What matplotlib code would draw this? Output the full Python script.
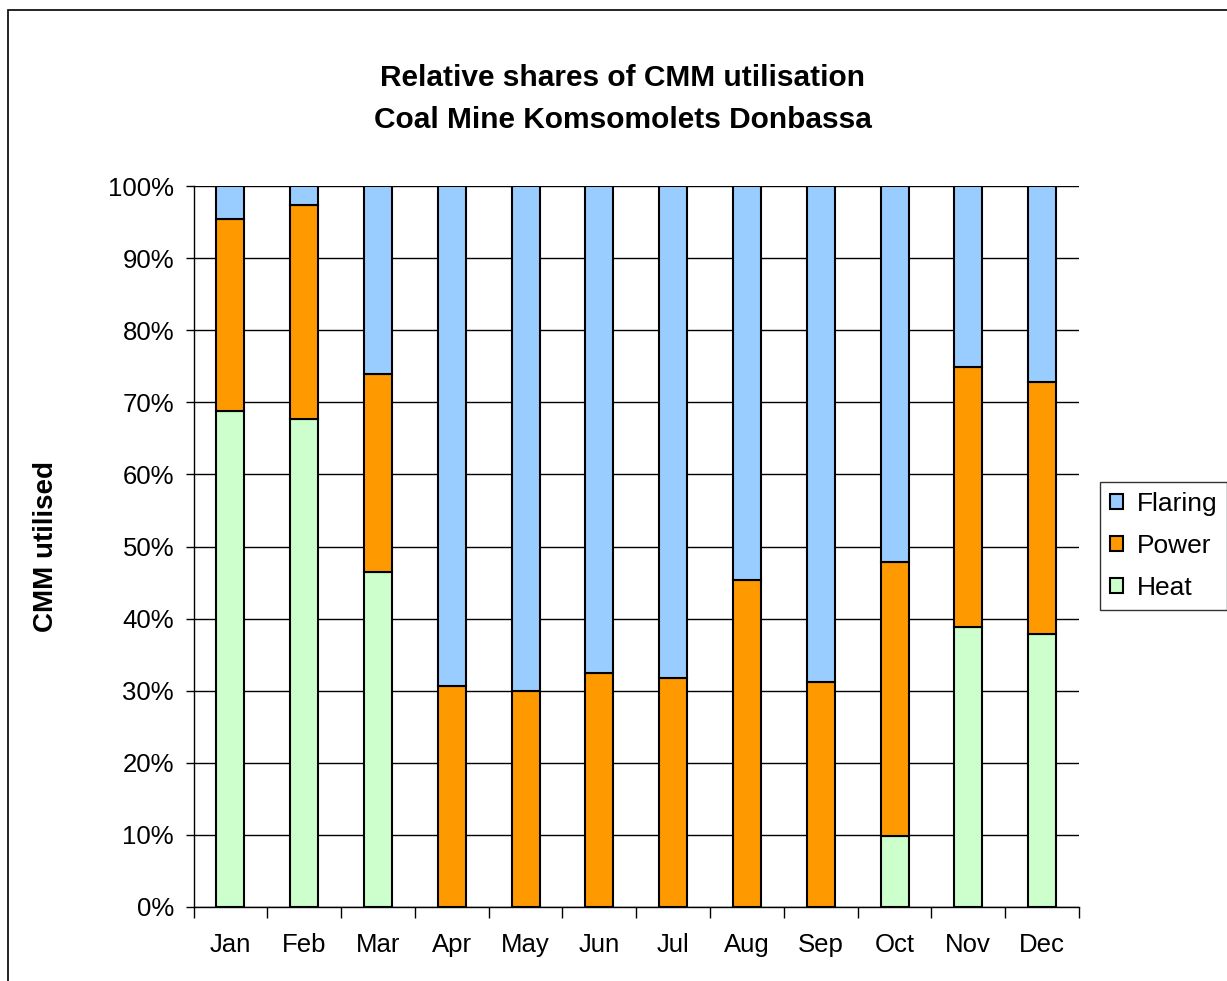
import matplotlib.pyplot as plt
import matplotlib.patches as patches
import numpy as np

plt.rcParams['font.family'] = ['Liberation Sans', 'DejaVu Sans']

months = ['Jan', 'Feb', 'Mar', 'Apr', 'May', 'Jun', 'Jul', 'Aug', 'Sep', 'Oct', 'Nov', 'Dec']
heat = [68.8, 67.7, 46.4, 0, 0, 0, 0, 0, 0, 9.9, 38.9, 37.9]
power = [26.6, 29.6, 27.5, 30.7, 29.9, 32.5, 31.8, 45.4, 31.2, 37.9, 36.0, 34.9]
flaring = [100 - h - p for h, p in zip(heat, power)]

col_heat = '#CCFFCC'
col_power = '#FF9900'
col_flaring = '#99CCFF'

W, H = 1227, 981
fig = plt.figure(figsize=(W / 100, H / 100), dpi=100)
ax = fig.add_axes([193.5 / W, 1 - 907 / H, (1079 - 193.5) / W, (907 - 186) / H])

x = np.arange(len(months))
bw = 0.38
kw = dict(width=bw, edgecolor='black', linewidth=1.5, zorder=3)
b1 = ax.bar(x, heat, color=col_heat, label='Heat', **kw)
b2 = ax.bar(x, power, bottom=heat, color=col_power, label='Power', **kw)
bottom2 = [h + p for h, p in zip(heat, power)]
b3 = ax.bar(x, flaring, bottom=bottom2, color=col_flaring, label='Flaring', **kw)

ax.set_xlim(-0.5, len(months) - 0.5)
ax.set_ylim(0, 100)
ax.set_yticks(np.arange(0, 101, 10))
ax.set_yticklabels([f'{v}%' for v in range(0, 101, 10)])
ax.yaxis.grid(True, color='black', linewidth=1.0, zorder=0)
ax.set_axisbelow(True)

ax.set_xticks(x)
ax.set_xticklabels(months)
ax.set_xticks(np.arange(-0.5, len(months), 1), minor=True)
ax.tick_params(axis='x', which='major', length=0, pad=19, labelsize=18.5)
ax.tick_params(axis='x', which='minor', length=8, width=1, direction='out')
ax.tick_params(axis='y', length=6, width=1, pad=8, labelsize=18.5)

for s in ['top', 'right']:
    ax.spines[s].set_visible(False)
ax.spines['left'].set_linewidth(1)
ax.spines['bottom'].set_linewidth(1)

ax.set_ylabel('CMM utilised', fontsize=20, fontweight='bold')
ax.yaxis.set_label_coords(-0.152, 0.5)

fig.text(623 / W, 1 - 78 / H, 'Relative shares of CMM utilisation', ha='center', va='center',
         fontsize=21.5, fontweight='bold')
fig.text(623 / W, 1 - 120 / H, 'Coal Mine Komsomolets Donbassa', ha='center', va='center',
         fontsize=21.5, fontweight='bold')

handles = [b3, b2, b1]
leg = fig.legend(handles, ['Flaring', 'Power', 'Heat'], loc='upper left',
                 bbox_to_anchor=(1100 / W, 1 - 482 / H), fontsize=19,
                 frameon=True, fancybox=False, edgecolor='black', borderpad=0.38,
                 handlelength=0.5, handleheight=0.5, handletextpad=0.5, labelspacing=0.68,
                 borderaxespad=0)
leg.get_frame().set_linewidth(1)

# outer chart border
fig.patches.append(patches.Rectangle((7.5 / W, -0.1), 1.2, 1 - 10 / H + 0.1,
                                     transform=fig.transFigure, fill=False,
                                     edgecolor='black', linewidth=1.2))

fig.savefig('out.png', dpi=100)
